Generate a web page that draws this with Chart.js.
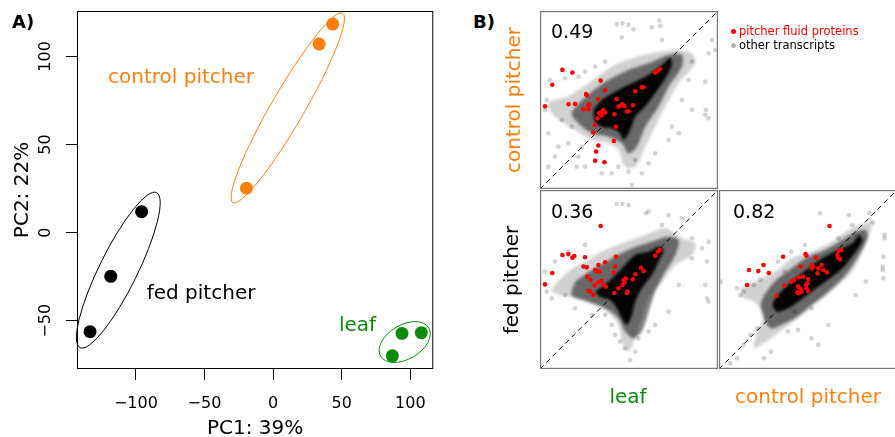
<!DOCTYPE html>
<html>
<head>
<meta charset="utf-8">
<script src="https://cdn.jsdelivr.net/npm/chart.js@4.4.0/dist/chart.umd.min.js"></script>
<style>
  html, body { margin: 0; padding: 0; background: #fff; overflow: hidden; }
  body { width: 895px; height: 437px; position: relative; font-family: 'DejaVu Sans', sans-serif; }
  canvas { position: absolute; }
  canvas.cloud { filter: blur(1.6px); }
  .txt { position: absolute; white-space: nowrap; font-size: 20px; line-height: 20px; }
  .rot { transform: translate(-50%, -50%) rotate(-90deg); }
  .ctr { transform: translateX(-50%); }
  .corr { position: absolute; font-size: 19px; line-height: 19px; }
  .key { position: absolute; font-size: 11.5px; line-height: 14px; white-space: nowrap; }
  .dot { position: absolute; width: 5px; height: 5px; border-radius: 50%; }
</style>
</head>
<body>
<canvas id="pca" width="440" height="437" style="left:0;top:0"></canvas>
<canvas id="leafCtrlCloud" class="cloud" width="178" height="178" style="left:540px;top:11px"></canvas>
<canvas id="leafCtrl" width="178" height="178" style="left:540px;top:11px"></canvas>
<canvas id="leafFedCloud" class="cloud" width="178" height="179" style="left:540px;top:190px"></canvas>
<canvas id="leafFed" width="178" height="179" style="left:540px;top:190px"></canvas>
<canvas id="ctrlFedCloud" class="cloud" width="178" height="179" style="left:719px;top:190px"></canvas>
<canvas id="ctrlFed" width="178" height="179" style="left:719px;top:190px"></canvas>

<div class="txt" style="left:473px;top:13px;font-weight:bold;font-size:18px;line-height:18px">B)</div>
<div class="txt rot" style="left:513px;top:100px;color:#ff7f0e">control pitcher</div>
<div class="txt rot" style="left:511px;top:280px;color:#000">fed pitcher</div>
<div class="txt ctr" style="left:628px;top:386px;color:#0b8b0b">leaf</div>
<div class="txt ctr" style="left:808px;top:386px;color:#ff7f0e">control pitcher</div>
<div class="corr" style="left:551px;top:22px">0.49</div>
<div class="corr" style="left:551px;top:202px">0.36</div>
<div class="corr" style="left:733px;top:202px">0.82</div>
<span class="dot" style="left:731px;top:29px;background:#ff0000"></span>
<div class="key" style="left:739px;top:24px;color:#ff0000">pitcher fluid proteins</div>
<span class="dot" style="left:731px;top:43px;background:#b4b4b4"></span>
<div class="key" style="left:739px;top:38px;color:#000">other transcripts</div>

<script>
const FONT = "'DejaVu Sans', sans-serif";
const ORANGE = '#ff7f0e';
const GREEN = '#0b8b0b';

// ---- A) PCA of the nine libraries ----
const controlPC1 = [43.4, 33.5, -19.4];
const controlPC2 = [118.4, 107.0, 25.2];
const fedPC1 = [-95.8, -118.3, -133.4];
const fedPC2 = [11.9, -24.8, -56.2];
const leafPC1 = [93.9, 108.0, 86.9];
const leafPC2 = [-57.2, -56.8, -69.9];
const pcTicksX = [-100, -50, 0, 50, 100];
const pcTicksY = [-50, 0, 50, 100];

// group ellipses: centre, half major axis, half minor axis (PC units)
const controlEllipse = { c: [10.7, 70.8], a: [40.0, 53.7], b: [10.4, -4.7] };
const fedEllipse = { c: [-112.8, -21.3], a: [27.9, 44.0], b: [12.4, -4.8] };
const leafEllipse = { c: [95.9, -62.1], a: [17.6, 8.0], b: [6.2, -8.4] };

// ---- B) pairwise expression, scaled 0-100 on each axis ----
const identityLine = [0, 100];

// leaf (x) vs control pitcher (y)
const fluidLeafCtrl = [[12.6,66.9],[18.2,65.4],[6.9,58.6],[34.1,60.9],[25.9,53.4],[26.3,52.5],[36.6,55.5],[53.5,54.9],[57.2,57.1],[58.2,57.1],[2.8,46.5],[16.0,47.6],[19.7,47.8],[27.2,47.0],[27.8,47.6],[24.4,44.8],[27.2,44.8],[32.8,50.6],[43.1,50.6],[35.6,44.4],[33.2,42.5],[34.7,41.4],[34.3,43.3],[36.6,42.9],[44.1,46.3],[45.6,47.0],[46.5,47.6],[47.5,46.6],[52.2,47.0],[48.8,43.5],[49.7,43.7],[41.8,42.0],[32.3,39.7],[31.0,36.0],[42.6,35.0],[30.0,31.7],[41.5,27.0],[32.8,24.4],[31.5,21.0],[31.0,15.9],[36.2,15.0],[64.7,65.4],[66.2,66.5],[67.4,67.4]];
const otherLeafCtrl = [[43.1,92.7],[46.3,93.1],[49.7,92.2],[52.5,89.7],[62.8,90.8],[67.0,94.6],[67.5,91.6],[46.0,85.2],[68.5,83.7],[36.6,71.5],[31.0,68.7],[25.3,65.9],[21.6,63.1],[14.1,62.2],[5.6,61.2],[3.8,50.0],[2.8,44.4],[4.7,31.3],[10.3,23.8],[8.4,18.2],[4.7,12.5],[15.9,25.7],[21.6,18.2],[20.6,12.5],[25.3,12.5],[40.3,8.8],[49.7,9.7],[51.6,2.2],[57.2,8.8],[61.0,14.4],[64.7,20.0],[72.2,27.5],[77.9,31.3],[85.4,44.4],[92.9,41.6],[94.7,39.7],[93.2,44.4],[92.9,60.3],[85.4,71.5],[94.7,76.2],[98.5,78.1],[96.6,83.7],[83.5,61.2],[79.7,50.0],[74.1,35.0],[17.8,35.0],[12.2,38.8],[23.5,23.8],[31.0,16.3],[34.7,8.8],[44.1,12.5],[53.5,16.3]];
const coreLeafCtrl = [[30.0,44.4],[34.7,50.0],[42.2,54.7],[51.6,59.4],[61.0,64.1],[68.5,69.7],[73.2,73.4],[74.1,69.7],[70.4,62.2],[64.7,53.8],[59.1,46.3],[53.5,40.6],[50.7,33.2],[46.9,27.5],[45.0,31.3],[40.3,34.1],[34.7,35.0],[31.0,37.8]];
const midLeafCtrl = [[21.6,48.1],[29.1,54.7],[38.5,61.2],[49.7,66.9],[61.0,70.6],[72.2,75.3],[79.7,75.3],[79.7,68.7],[72.2,57.5],[66.6,46.3],[59.1,35.0],[54.4,23.8],[49.7,20.0],[46.0,25.7],[38.5,29.4],[29.1,31.3],[21.6,36.9],[17.8,42.5]];
const outerLeafCtrl = [[15.9,51.9],[27.2,59.4],[40.3,68.7],[51.6,73.4],[62.8,76.2],[76.0,78.1],[85.4,76.2],[87.2,70.6],[77.9,59.4],[70.4,46.3],[64.7,35.0],[59.1,23.8],[53.5,12.5],[47.8,12.5],[44.1,21.9],[38.5,25.7],[29.1,27.5],[19.7,33.2],[8.4,40.6],[4.7,48.1]];

// leaf (x) vs fed pitcher (y)
const fluidLeafFed = [[34.1,79.9],[12.6,63.7],[15.9,64.2],[18.2,62.2],[19.3,63.1],[25.3,62.4],[42.6,62.7],[6.9,53.6],[2.8,47.3],[24.4,57.2],[26.3,56.8],[26.6,51.6],[31.0,55.3],[32.8,58.1],[36.6,59.6],[31.9,54.7],[33.4,54.4],[41.3,53.8],[42.2,57.2],[28.5,49.7],[32.8,48.4],[30.6,46.6],[34.7,49.3],[35.6,46.9],[37.0,46.0],[27.2,43.6],[28.1,43.2],[30.0,41.3],[41.8,42.5],[44.1,45.1],[46.3,46.9],[47.5,48.4],[46.9,49.7],[48.2,50.6],[49.2,43.2],[48.8,42.5],[52.2,50.1],[53.5,52.9],[56.8,56.6],[58.2,54.7],[64.7,63.3],[66.2,65.5],[67.3,66.5]];
const otherLeafFed = [[43.1,92.2],[46.3,92.2],[49.7,91.6],[59.5,87.1],[61.0,87.9],[72.2,86.0],[68.5,80.4],[25.3,69.3],[15.9,65.5],[8.4,60.0],[2.8,54.4],[2.8,46.9],[3.8,43.2],[6.6,39.5],[14.1,41.3],[36.6,30.2],[40.3,24.6],[42.2,19.0],[45.0,15.3],[47.8,11.5],[53.5,9.7],[50.7,5.0],[55.3,17.1],[61.0,20.9],[64.7,24.6],[72.2,32.0],[77.9,46.9],[85.4,61.8],[91.0,67.4],[94.7,71.1],[93.8,60.0],[92.9,46.9],[93.8,39.5],[94.7,37.6],[79.7,84.2],[85.4,73.0],[19.7,33.9],[29.1,30.2]];
const coreLeafFed = [[31.0,43.2],[38.5,48.8],[46.0,56.2],[53.5,63.7],[61.0,65.5],[66.6,68.3],[69.4,66.5],[66.6,60.0],[62.8,52.5],[57.2,45.1],[53.5,37.6],[51.6,30.2],[48.8,24.6],[46.0,28.3],[43.1,33.9],[39.4,38.5],[33.8,40.4]];
const midLeafFed = [[19.7,48.8],[29.1,55.3],[40.3,61.8],[51.6,67.4],[62.8,71.1],[72.2,73.9],[77.9,72.1],[76.0,63.7],[70.4,54.4],[64.7,43.2],[61.0,32.0],[57.2,20.9],[52.5,17.1],[47.8,20.9],[44.1,28.3],[36.6,33.9],[27.2,37.6],[17.8,41.3]];
const outerLeafFed = [[8.4,46.9],[15.9,54.4],[25.3,60.0],[34.7,65.5],[46.0,70.2],[59.1,74.9],[70.4,78.6],[79.7,73.0],[87.2,70.2],[85.4,63.7],[76.0,58.1],[68.5,48.8],[61.0,39.5],[57.2,28.3],[53.5,17.1],[49.7,9.7],[46.0,15.3],[44.1,24.6],[34.7,33.9],[19.7,39.5],[6.6,43.2]];

// control pitcher (x) vs fed pitcher (y)
const fluidCtrlFed = [[62.1,79.9],[36.0,62.7],[48.6,64.2],[49.1,63.3],[54.5,62.2],[16.8,55.3],[22.1,54.7],[25.0,58.1],[28.0,53.6],[15.8,46.9],[32.4,41.0],[36.8,46.6],[40.6,48.8],[42.1,49.7],[44.8,51.2],[45.9,57.2],[47.2,51.6],[50.1,50.3],[49.7,47.9],[48.8,46.9],[52.0,58.1],[52.0,56.2],[53.0,57.2],[55.8,56.2],[55.4,53.4],[57.7,58.1],[58.7,55.3],[60.6,54.0],[44.4,46.0],[45.9,44.7],[46.3,43.2],[44.0,42.8],[44.8,42.3],[49.1,45.1],[50.1,43.6],[67.2,65.9],[68.8,66.5],[66.5,63.7],[66.9,62.2],[68.0,61.4]];
const otherCtrlFed = [[56.8,87.0],[73.0,86.0],[84.4,87.0],[86.3,81.9],[93.0,74.9],[93.0,73.0],[92.4,62.7],[92.0,57.2],[92.0,55.3],[92.4,50.6],[1.0,48.8],[10.1,45.1],[13.9,43.2],[12.0,41.3],[19.6,46.9],[23.4,49.7],[33.0,60.0],[36.8,54.4],[40.6,65.5],[48.2,69.3],[21.5,22.7],[17.7,19.0],[13.9,13.4],[10.1,6.0],[6.3,3.2],[29.1,9.7],[25.3,6.0],[38.7,20.9],[44.4,21.8],[52.0,17.1],[55.8,13.4],[61.5,24.6],[52.0,33.9],[76.8,41.3],[82.5,48.8],[74.9,80.4],[67.2,73.0],[42.5,32.0]];
const coreCtrlFed = [[33.0,41.3],[40.6,48.8],[50.1,56.2],[57.7,61.8],[67.2,66.5],[74.9,70.2],[78.7,74.9],[80.6,72.1],[76.8,65.5],[69.2,56.2],[59.6,48.8],[52.0,43.2],[44.4,37.6],[38.7,33.9],[33.0,32.0],[30.1,35.8]];
const midCtrlFed = [[25.3,41.3],[31.1,48.8],[40.6,56.2],[50.1,62.7],[59.6,66.5],[69.2,72.1],[76.8,76.7],[82.5,77.6],[83.4,73.0],[78.7,63.7],[71.1,52.5],[61.5,43.2],[52.0,35.8],[42.5,28.3],[34.9,24.6],[29.1,22.7],[25.3,28.3],[23.4,35.8]];
const outerCtrlFed = [[12.0,45.1],[21.5,49.7],[33.0,55.3],[40.6,61.8],[52.0,65.5],[63.4,71.1],[71.1,76.7],[78.7,80.4],[86.3,82.3],[84.4,74.9],[80.6,65.5],[74.9,54.4],[67.2,46.9],[55.8,37.6],[44.4,28.3],[36.8,22.7],[29.1,17.1],[23.4,13.4],[19.6,11.5],[21.5,20.9],[25.3,30.2],[19.6,37.6],[13.0,40.4]];

const minus = v => String(v).replace('-', '\u2212');
const zip = (xs, ys) => xs.map((x, i) => ({ x, y: ys[i] }));

// box, ellipses and text for the PCA panel
const pcaDecor = {
  id: 'pcaDecor',
  beforeDatasetsDraw(chart) {
    const { ctx, scales: { x, y } } = chart;
    [[controlEllipse, ORANGE], [fedEllipse, '#000'], [leafEllipse, GREEN]].forEach(([e, col]) => {
      const cx = x.getPixelForValue(e.c[0]), cy = y.getPixelForValue(e.c[1]);
      const ax = x.getPixelForValue(e.c[0] + e.a[0]) - cx, ay = y.getPixelForValue(e.c[1] + e.a[1]) - cy;
      const bx = x.getPixelForValue(e.c[0] + e.b[0]) - cx, by = y.getPixelForValue(e.c[1] + e.b[1]) - cy;
      ctx.save();
      ctx.beginPath();
      ctx.transform(ax, ay, bx, by, cx, cy);
      ctx.arc(0, 0, 1, 0, 2 * Math.PI);
      ctx.restore();
      ctx.save();
      ctx.lineWidth = 1;
      ctx.strokeStyle = col;
      ctx.stroke();
      ctx.restore();
    });
  },
  afterDraw(chart) {
    const { ctx, chartArea: a, scales: { x, y } } = chart;
    ctx.save();
    ctx.strokeStyle = '#000';
    ctx.lineWidth = 1;
    ctx.strokeRect(a.left + 0.5, a.top + 0.5, a.width - 1, a.height - 1);

    ctx.fillStyle = '#000';
    ctx.font = '16px ' + FONT;
    ctx.textAlign = 'center';
    ctx.textBaseline = 'alphabetic';
    y.ticks.forEach(t => {
      ctx.save();
      ctx.translate(50, y.getPixelForValue(t.value));
      ctx.rotate(-Math.PI / 2);
      ctx.fillText(minus(t.value), 0, 0);
      ctx.restore();
    });

    ctx.font = '20px ' + FONT;
    ctx.fillText('PC1: 39%', (a.left + a.right) / 2, 433.5);
    ctx.save();
    ctx.translate(28, (a.top + a.bottom) / 2);
    ctx.rotate(-Math.PI / 2);
    ctx.fillText('PC2: 22%', 0, 0);
    ctx.restore();

    ctx.textAlign = 'left';
    [['control pitcher', -120.3, 84.9, ORANGE], ['fed pitcher', -92.1, -37.8, '#000'], ['leaf', 48.0, -55.7, GREEN]]
      .forEach(([s, vx, vy, col]) => {
        ctx.fillStyle = col;
        ctx.fillText(s, x.getPixelForValue(vx), y.getPixelForValue(vy));
      });

    ctx.fillStyle = '#000';
    ctx.font = 'bold 18px ' + FONT;
    ctx.fillText('A)', 12, 28);
    ctx.restore();
  }
};

new Chart(document.getElementById('pca'), {
  type: 'scatter',
  data: {
    datasets: [
      { data: zip(controlPC1, controlPC2), backgroundColor: ORANGE },
      { data: zip(fedPC1, fedPC2), backgroundColor: '#000' },
      { data: zip(leafPC1, leafPC2), backgroundColor: GREEN }
    ]
  },
  options: {
    responsive: false,
    animation: false,
    events: [],
    layout: { autoPadding: false, padding: { top: 11, right: 6, bottom: 0, left: 0 } },
    elements: { point: { radius: 6.5, borderWidth: 0 } },
    plugins: { legend: { display: false }, tooltip: { enabled: false } },
    scales: {
      x: {
        type: 'linear', min: -142.9, max: 116.7,
        afterBuildTicks: s => { s.ticks = pcTicksX.map(v => ({ value: v })); },
        afterFit: s => { s.height = 68; },
        border: { display: false },
        grid: { drawOnChartArea: false, tickLength: 11, color: '#000' },
        ticks: { padding: 14, color: '#000', font: { family: FONT, size: 16 }, maxRotation: 0, autoSkip: false, callback: v => minus(v) }
      },
      y: {
        type: 'linear', min: -77.4, max: 125.8,
        afterBuildTicks: s => { s.ticks = pcTicksY.map(v => ({ value: v })); },
        afterFit: s => { s.width = 77; },
        border: { display: false },
        grid: { drawOnChartArea: false, tickLength: 11, color: '#000' },
        ticks: { display: false }
      }
    }
  },
  plugins: [pcaDecor]
});

// grey frame round each pairwise panel
const frame = {
  id: 'frame',
  afterDraw(chart) {
    const { ctx, chartArea: a } = chart;
    ctx.save();
    ctx.strokeStyle = '#777';
    ctx.lineWidth = 1.2;
    ctx.strokeRect(a.left + 0.6, a.top + 0.6, a.width - 1.2, a.height - 1.2);
    ctx.restore();
  }
};

const pairOptions = () => ({
  responsive: false,
  animation: false,
  events: [],
  layout: { autoPadding: false, padding: 0 },
  plugins: { legend: { display: false }, tooltip: { enabled: false } },
  scales: {
    x: { display: false, min: 0, max: 100 },
    y: { display: false, min: 0, max: 100 }
  }
});

// density of the other transcripts goes on a softened layer underneath,
// the individual points, the 1:1 line and the frame on top
function pairPlot(id, fluid, others, core, mid, outer) {
  const pts = arr => arr.map(([x, y]) => ({ x, y }));
  const ring = arr => pts(arr.concat([arr[0]]));
  const cloud = (arr, alpha) => ({
    data: ring(arr), showLine: true, fill: 'shape', tension: 0.3,
    backgroundColor: `rgba(0,0,0,${alpha})`, borderColor: 'transparent', borderWidth: 0, pointRadius: 0
  });
  new Chart(document.getElementById(id + 'Cloud'), {
    type: 'scatter',
    data: { datasets: [cloud(core, 0.97), cloud(mid, 0.5), cloud(outer, 0.18)] },
    options: pairOptions()
  });
  new Chart(document.getElementById(id), {
    type: 'scatter',
    data: {
      datasets: [
        { data: pts(fluid), pointRadius: 2.3, backgroundColor: '#ff0000', borderWidth: 0 },
        { data: zip(identityLine, identityLine), showLine: true, borderColor: '#000', borderWidth: 1, borderDash: [5, 4], pointRadius: 0 },
        { data: pts(others), pointRadius: 2.4, backgroundColor: 'rgba(0,0,0,0.17)', borderWidth: 0 }
      ]
    },
    options: pairOptions(),
    plugins: [frame]
  });
}

pairPlot('leafCtrl', fluidLeafCtrl, otherLeafCtrl, coreLeafCtrl, midLeafCtrl, outerLeafCtrl);
pairPlot('leafFed', fluidLeafFed, otherLeafFed, coreLeafFed, midLeafFed, outerLeafFed);
pairPlot('ctrlFed', fluidCtrlFed, otherCtrlFed, coreCtrlFed, midCtrlFed, outerCtrlFed);
</script>
</body>
</html>
